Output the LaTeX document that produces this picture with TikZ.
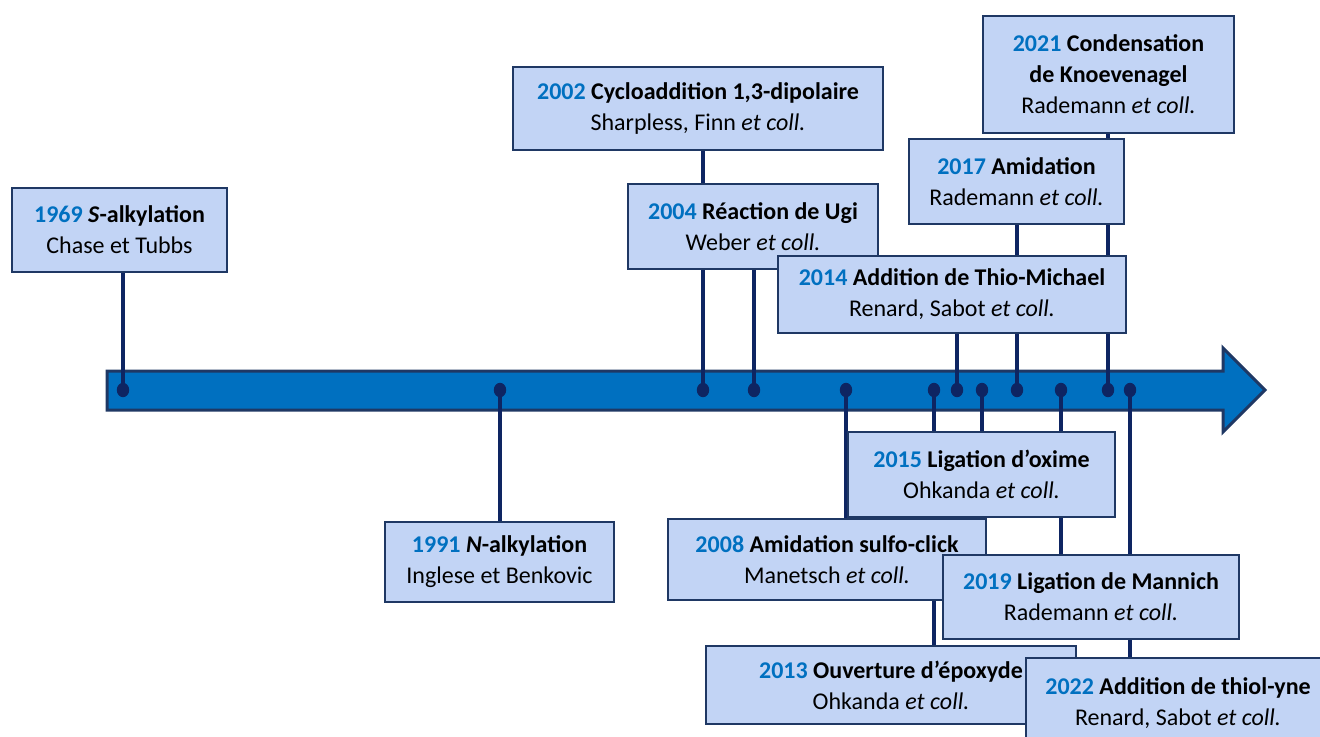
\documentclass[tikz,border=0pt]{standalone}
\usepackage{fontspec}
\setmainfont{Carlito}
\usetikzlibrary{backgrounds}

\definecolor{barblue}{RGB}{0,112,192}
\definecolor{navy}{RGB}{31,56,100}
\definecolor{linknavy}{RGB}{14,37,98}
\definecolor{boxfill}{RGB}{194,212,245}

\newcommand{\yr}[1]{\textcolor{barblue}{#1}}
\newcommand{\ec}{\textit{et coll.}}

\tikzset{
  evbox/.style={draw=navy, line width=1pt, fill=boxfill, inner sep=0pt,
    align=center, font=\fontsize{12}{15.5}\selectfont},
  link/.style={linknavy, line width=2pt},
  dotmark/.style={fill=linknavy},
}

\begin{document}
\begin{tikzpicture}[x=0.5pt, y=-0.5pt]
  \useasboundingbox (0,0) rectangle (1320,736);
  \clip (0,0) rectangle (1320,736);

  % events, in chronological order
  \node[evbox, minimum width=107.5pt, minimum height=42pt] (b1969) at (119.5,230)
    {\textbf{\yr{1969} \textit{S}-alkylation}\\Chase et Tubbs};
  \node[evbox, minimum width=114.5pt, minimum height=40pt] (b1991) at (499.5,562)
    {\textbf{\yr{1991} \textit{N}-alkylation}\\Inglese et Benkovic};
  \node[evbox, minimum width=185pt, minimum height=41.5pt] (b2002) at (698,108.5)
    {\textbf{\yr{2002} Cycloaddition 1,3-dipolaire}\\Sharpless, Finn \ec};
  \node[evbox, minimum width=125pt, minimum height=42.5pt] (b2004) at (753,226.5)
    {\textbf{\yr{2004} Réaction de Ugi}\\Weber \ec};
  \node[evbox, minimum width=159pt, minimum height=40.5pt] (b2008) at (827,559.5)
    {\textbf{\yr{2008} Amidation sulfo-click}\\Manetsch \ec};
  \node[evbox, minimum width=185pt, minimum height=39pt] (b2013) at (891,685)
    {\textbf{\yr{2013} Ouverture d’époxyde}\\Ohkanda \ec};
  \node[evbox, minimum width=174pt, minimum height=38.5pt] (b2014) at (952,294.5)
    {\textbf{\yr{2014} Addition de Thio-Michael}\\Renard, Sabot \ec};
  \node[evbox, minimum width=133.5pt, minimum height=42.5pt] (b2015) at (981.5,474.5)
    {\textbf{\yr{2015} Ligation d’oxime}\\Ohkanda \ec};
  \node[evbox, minimum width=107.5pt, minimum height=42.5pt] (b2017) at (1016.5,181.5)
    {\textbf{\yr{2017} Amidation}\\Rademann \ec};
  \node[evbox, minimum width=148pt, minimum height=42pt] (b2019) at (1091,597)
    {\textbf{\yr{2019} Ligation de Mannich}\\Rademann \ec};
  \node[evbox, minimum width=125.5pt, minimum height=58.5pt] (b2021) at (1108.5,74.5)
    {\textbf{\yr{2021} Condensation}\\\textbf{de Knoevenagel}\\Rademann \ec};
  \node[evbox, minimum width=152pt, minimum height=45pt, anchor=north] (b2022) at (1178,657)
    {\textbf{\yr{2022} Addition de thiol-yne}\\Renard, Sabot \ec};

  \begin{scope}[on background layer]
    % timeline arrow
    \draw[fill=barblue, draw=navy, line width=1.5pt, line join=miter]
      (107,371) -- (1223,371) -- (1223,348) -- (1265,390)
      -- (1223,432) -- (1223,410) -- (107,410) -- cycle;
    % links from the timeline to the boxes
    \foreach \yy/\xx in {1969/123, 1991/500, 2002/703, 2004/754, 2008/846,
        2013/934, 2014/957, 2015/982, 2017/1017, 2019/1061, 2021/1108, 2022/1130} {
      \coordinate (d\yy) at (\xx,390);
      \draw[link] (d\yy) -- (d\yy |- b\yy.center);
      \fill[dotmark] (d\yy) ellipse (3.1pt and 3.6pt);
    }
  \end{scope}
\end{tikzpicture}
\end{document}
